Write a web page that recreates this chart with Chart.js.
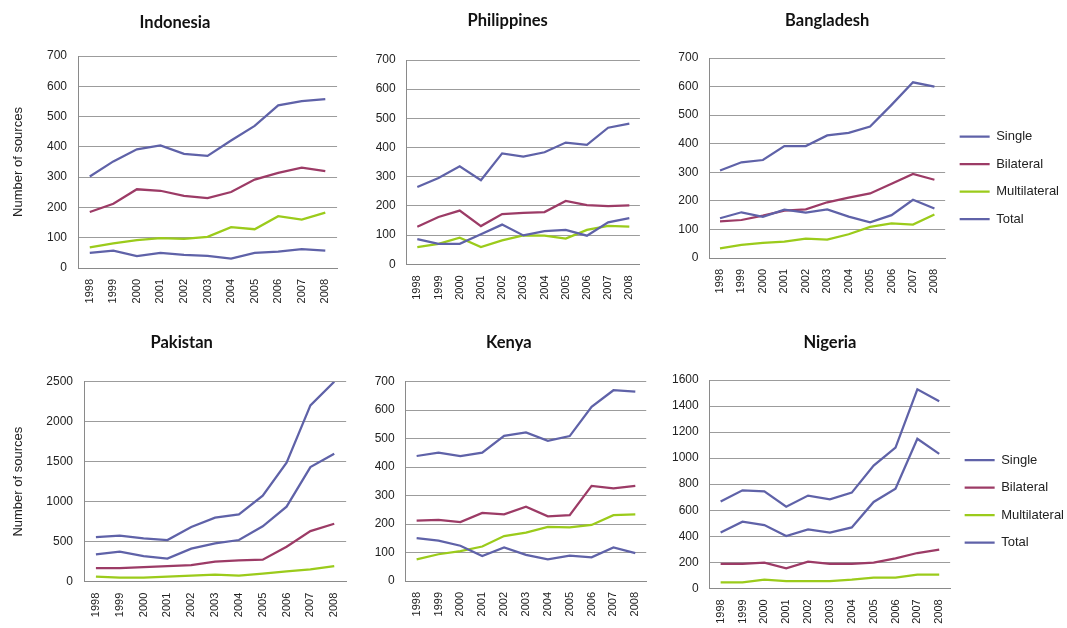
<!DOCTYPE html>
<html>
<head>
<meta charset="utf-8">
<script src="https://cdn.jsdelivr.net/npm/chart.js@4"></script>
<style>
  html, body { margin: 0; padding: 0; background: #fff; overflow: hidden; }
  body { position: relative; width: 1067px; height: 628px; }
  canvas { position: absolute; }
</style>
</head>
<body>
<canvas id="indonesia"></canvas>
<canvas id="philippines"></canvas>
<canvas id="bangladesh"></canvas>
<canvas id="pakistan"></canvas>
<canvas id="kenya"></canvas>
<canvas id="nigeria"></canvas>
<script>
// --- data -------------------------------------------------------------
const years = ['1998', '1999', '2000', '2001', '2002', '2003', '2004', '2005', '2006', '2007', '2008'];
const seriesNames = ['Single', 'Bilateral', 'Multilateral', 'Total'];
const seriesColors = ['#5f62a8', '#9c3b66', '#9bcb1b', '#5f62a8'];

const ticks700 = [0, 100, 200, 300, 400, 500, 600, 700];
const ticksPakistan = [0, 500, 1000, 1500, 2000, 2500];
const ticksNigeria = [0, 200, 400, 600, 800, 1000, 1200, 1400, 1600];

const indonesiaSingle = [50, 57, 39, 50, 43, 40, 31, 50, 54, 62, 57];
const indonesiaBilateral = [185, 212, 260, 255, 238, 231, 251, 292, 314, 331, 320];
const indonesiaMultilateral = [68, 81, 92, 99, 96, 103, 135, 128, 171, 160, 183];
const indonesiaTotal = [302, 352, 392, 405, 377, 370, 421, 469, 537, 551, 558];

const philippinesSingle = [86, 70, 70, 103, 136, 99, 114, 118, 98, 144, 158];
const philippinesBilateral = [129, 162, 184, 131, 172, 176, 179, 217, 203, 199, 202];
const philippinesMultilateral = [59, 70, 91, 59, 82, 99, 98, 88, 118, 132, 129];
const philippinesTotal = [265, 296, 336, 288, 380, 369, 384, 417, 409, 468, 482];

const bangladeshSingle = [139, 160, 144, 169, 159, 170, 145, 125, 150, 204, 173];
const bangladeshBilateral = [128, 133, 148, 166, 170, 195, 211, 226, 260, 294, 274];
const bangladeshMultilateral = [34, 46, 53, 57, 68, 64, 83, 109, 121, 117, 152];
const bangladeshTotal = [306, 335, 343, 392, 392, 429, 438, 460, 536, 615, 600];

const pakistanSingle = [342, 375, 321, 288, 413, 479, 521, 692, 938, 1433, 1600];
const pakistanBilateral = [171, 171, 183, 196, 208, 250, 267, 275, 438, 633, 725];
const pakistanMultilateral = [63, 50, 50, 63, 75, 88, 75, 100, 129, 154, 196];
const pakistanTotal = [558, 575, 542, 521, 683, 800, 842, 1075, 1488, 2204, 2500];

const kenyaSingle = [151, 142, 124, 88, 118, 92, 76, 89, 83, 118, 98];
const kenyaBilateral = [212, 215, 207, 239, 234, 261, 227, 231, 334, 325, 334];
const kenyaMultilateral = [76, 94, 105, 121, 158, 170, 190, 188, 197, 231, 234];
const kenyaTotal = [439, 451, 439, 451, 510, 522, 492, 509, 612, 670, 665];

const nigeriaSingle = [428, 512, 486, 402, 453, 428, 468, 663, 765, 1149, 1032];
const nigeriaBilateral = [187, 187, 197, 154, 205, 187, 187, 197, 230, 271, 297];
const nigeriaMultilateral = [46, 46, 67, 56, 56, 56, 67, 82, 82, 105, 105];
const nigeriaTotal = [666, 753, 745, 627, 712, 684, 735, 942, 1080, 1528, 1436];

// --- styling ----------------------------------------------------------
const SANS = "'Liberation Sans', Arial, sans-serif";
const TEXT = '#222';
const GRID = '#9c9c9c';
const AXIS = '#8a8a8a';

function panel(id, title, series, ticks, box) {
  const canvas = document.getElementById(id);
  canvas.width = box.w;
  canvas.height = box.h;
  canvas.style.left = box.x + 'px';
  canvas.style.top = box.y + 'px';

  const yTitle = box.yTitle === undefined
    ? { display: false }
    : { display: true, text: 'Number of sources', color: TEXT,
        font: { family: SANS, size: 13 }, padding: { top: box.yTitle, bottom: 0 } };

  // legend box is otherwise capped at a quarter of the canvas width
  const legend = box.legend
    ? { display: true, position: 'right', align: 'center', maxWidth: 160,
        labels: { usePointStyle: true, pointStyle: 'line', pointStyleWidth: 30,
                  padding: 14.5, color: TEXT, font: { family: SANS, size: 13 } } }
    : { display: false };

  return new Chart(canvas, {
    type: 'line',
    data: {
      labels: years,
      datasets: series.map((values, i) => ({
        label: seriesNames[i],
        data: values,
        borderColor: seriesColors[i],
        backgroundColor: seriesColors[i],
        borderWidth: 2.25,
        pointRadius: 0,
        tension: 0,
        fill: false
      }))
    },
    options: {
      responsive: false,
      animation: false,
      layout: { padding: box.pad },
      scales: {
        x: {
          offset: true,
          grid: { display: false, drawTicks: false },
          border: { display: true, color: AXIS, width: 1 },
          ticks: { color: TEXT, font: { family: SANS, size: 11 }, minRotation: 90, maxRotation: 90,
                   autoSkip: false, padding: 11 },
          afterFit: s => { s.height = box.xHeight; }
        },
        y: {
          min: ticks[0],
          max: ticks[ticks.length - 1],
          grid: { color: GRID, drawTicks: false },
          border: { display: true, color: AXIS, width: 1 },
          ticks: { stepSize: ticks[1] - ticks[0], color: TEXT, font: { family: SANS, size: 12 },
                   padding: 11, callback: v => String(v) },
          title: yTitle,
          afterFit: s => { s.width = box.yWidth; }
        }
      },
      plugins: {
        title: { display: true, text: title, fullSize: !box.legend, color: '#111',
                 font: { family: 'Lato', size: 16.5, weight: 'bold' }, padding: box.titlePad },
        legend: legend,
        tooltip: { enabled: false }
      }
    }
  });
}

panel('indonesia', 'Indonesia',
  [indonesiaSingle, indonesiaBilateral, indonesiaMultilateral, indonesiaTotal], ticks700,
  { x: 0, y: 0, w: 350, h: 320, pad: { top: 0, left: 11, right: 11, bottom: 0 },
    titlePad: { top: 12.6, bottom: 23.6 }, yWidth: 67, yTitle: -0.5, xHeight: 52 });

panel('philippines', 'Philippines',
  [philippinesSingle, philippinesBilateral, philippinesMultilateral, philippinesTotal], ticks700,
  { x: 360, y: 0, w: 294, h: 320, pad: { top: 0, left: 11.7, right: 10.3, bottom: 0 },
    titlePad: { top: 11.1, bottom: 29.1 }, yWidth: 35, xHeight: 55.7 });

panel('bangladesh', 'Bangladesh',
  [bangladeshSingle, bangladeshBilateral, bangladeshMultilateral, bangladeshTotal], ticks700,
  { x: 675, y: 0, w: 394, h: 320, pad: { top: 35.5, left: 0, right: 0, bottom: 0 },
    titlePad: { top: -24.4, bottom: 27.1 }, yWidth: 34.3, xHeight: 62, legend: true });

panel('pakistan', 'Pakistan',
  [pakistanSingle, pakistanBilateral, pakistanMultilateral, pakistanTotal], ticksPakistan,
  { x: 0, y: 320, w: 359, h: 308, pad: { top: 0, left: 16.7, right: 12.3, bottom: 0 },
    titlePad: { top: 12.6, bottom: 29.3 }, yWidth: 67.3, yTitle: -6.2, xHeight: 46.3 });

panel('kenya', 'Kenya',
  [kenyaSingle, kenyaBilateral, kenyaMultilateral, kenyaTotal], ticks700,
  { x: 360, y: 320, w: 300, h: 308, pad: { top: 0, left: 8.3, right: 10.7, bottom: 0 },
    titlePad: { top: 13.1, bottom: 28.8 }, yWidth: 37.4, xHeight: 47 });

panel('nigeria', 'Nigeria',
  [nigeriaSingle, nigeriaBilateral, nigeriaMultilateral, nigeriaTotal], ticksNigeria,
  { x: 665, y: 320, w: 409, h: 308, pad: { top: 54.5, left: 0, right: 0, bottom: 0 },
    titlePad: { top: -41.9, bottom: 27.6 }, yWidth: 44.7, xHeight: 39.7, legend: true });
</script>
</body>
</html>
